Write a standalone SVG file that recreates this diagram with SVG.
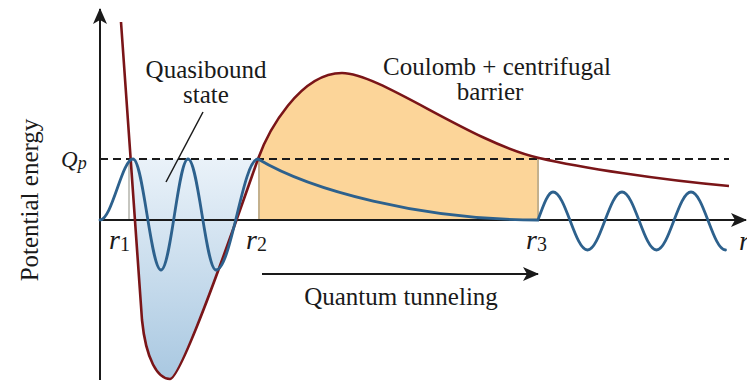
<svg xmlns="http://www.w3.org/2000/svg" width="747" height="382" viewBox="0 0 747 382">
  <style>
    text { font-family: "Liberation Serif", "Times New Roman", Times, serif; fill: #1a1a1a; }
    .lbl { font-size: 25px; }
    .it { font-style: italic; }
    .axis { stroke: #1a1a1a; stroke-width: 2; fill: none; }
    .pot { stroke: #7a1518; stroke-width: 2.6; fill: none; stroke-linejoin: round; }
    .wave { stroke: #2d618d; stroke-width: 2.8; fill: none; stroke-linecap: round; }
    .edge { stroke: #8c8c80; stroke-width: 1; }
  </style>
  <defs>
    <linearGradient id="wellGrad" x1="0" y1="0" x2="0" y2="1">
      <stop offset="0" stop-color="#eaf2f9"/>
      <stop offset="1" stop-color="#a9c8e1"/>
    </linearGradient>
    <marker id="arrow" viewBox="0 0 16 14" refX="15" refY="7" markerWidth="16" markerHeight="14" markerUnits="userSpaceOnUse" orient="auto">
      <path d="M0,0 L16,7 L0,14 L4,7 Z" fill="#1a1a1a"/>
    </marker>
  </defs>
  <rect width="747" height="382" fill="#ffffff"/>

  <g id="fills">
    <path id="well-fill" d="M130,159 L258,159 C240,210 182,379 170,379 C158,379 146,360 142,320 Z" fill="url(#wellGrad)"/>
    <path id="barrier-fill" d="M258,220 L258,159 C268,131 300,73 342,73 C380,73 470,142 539,158 L539,220 Z" fill="#fcd599"/>
    <line class="edge" x1="129" y1="159" x2="129" y2="220"/>
    <line class="edge" x1="259" y1="159" x2="259" y2="220"/>
    <line class="edge" x1="538" y1="159" x2="538" y2="220"/>
  </g>

  <g id="connectors">
    <line id="y-axis" class="axis" x1="100" y1="380" x2="100" y2="9" marker-end="url(#arrow)"/>
    <line id="x-axis" class="axis" x1="100" y1="220" x2="746" y2="220" marker-end="url(#arrow)"/>
    <line id="qp-line" x1="100" y1="159" x2="729" y2="159" stroke="#1a1a1a" stroke-width="2" stroke-dasharray="8,5"/>
    <line id="tunnel-arrow" class="axis" x1="262" y1="274" x2="538" y2="274" marker-end="url(#arrow)"/>
    <line id="leader" x1="203" y1="112" x2="166" y2="182" stroke="#1a1a1a" stroke-width="1.5"/>
  </g>

  <g id="potential">
    <path class="pot" d="M121,22 L142,320 C146,360 158,379 170,379 C182,379 240,210 258,159 C268,131 300,73 342,73 C380,73 470,142 539,158 C580,167.5 660,180 729,186"/>
  </g>

  <g id="wavefunction">
    <path class="wave" d="M100,220 C112,220 122,159 133,159 C143.2,159 150.8,270 161,270 C170.8,270 178.2,159 188,159 C198.2,159 205.8,270 216,270 C231.3,270 242.7,159 258,159 C310,190 420,220 538,220 C543.5,205 548,192 553,192 C565.6,192 574.9,250 587.5,250 C600.1,250 609.4,192 622,192 C634.6,192 643.9,250 656.5,250 C669.1,250 678.4,192 691,192 C703.6,192 712.9,250 725.5,250"/>
  </g>

  <g id="labels">
    <text class="lbl" transform="translate(38,200) rotate(-90)" text-anchor="middle">Potential energy</text>
    <text class="lbl" x="206" y="78" text-anchor="middle">Quasibound</text>
    <text class="lbl" x="206" y="103" text-anchor="middle">state</text>
    <text class="lbl" x="497" y="75" text-anchor="middle">Coulomb + centrifugal</text>
    <text class="lbl" x="490" y="100" text-anchor="middle">barrier</text>
    <text class="lbl" x="401" y="305" text-anchor="middle">Quantum tunneling</text>
    <text class="it" x="61" y="167" font-size="23">Q<tspan font-size="18" dy="2">p</tspan></text>
    <text class="it" x="109" y="249" font-size="28">r<tspan font-size="20" font-style="normal" dy="2">1</tspan></text>
    <text class="it" x="246" y="249" font-size="28">r<tspan font-size="20" font-style="normal" dy="2">2</tspan></text>
    <text class="it" x="526" y="249" font-size="28">r<tspan font-size="20" font-style="normal" dy="2">3</tspan></text>
    <text class="it" x="739" y="250" font-size="28">r</text>
  </g>
</svg>
